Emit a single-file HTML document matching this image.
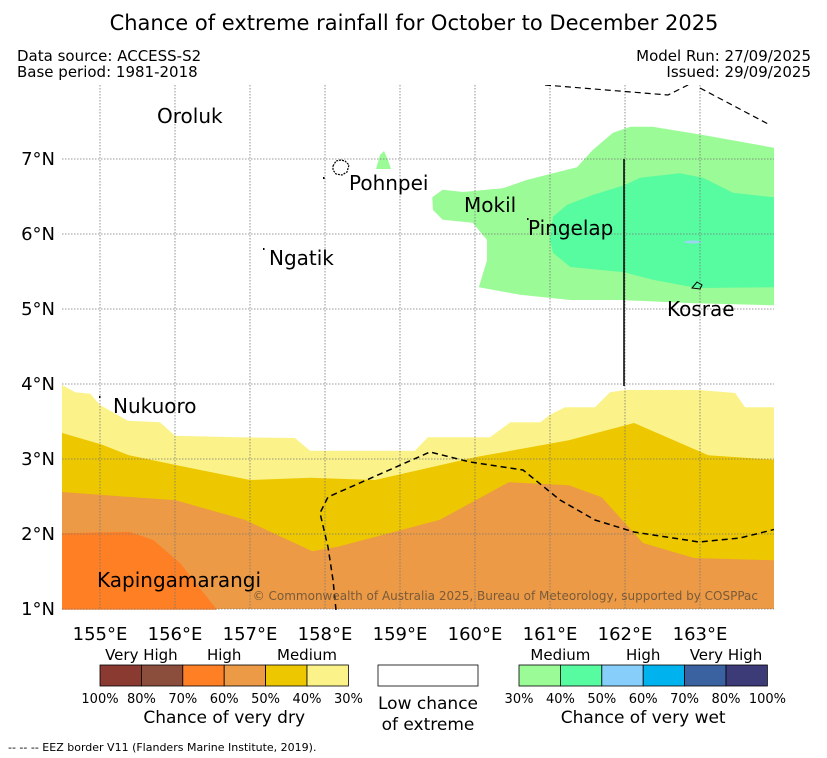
<!DOCTYPE html>
<html><head><meta charset="utf-8"><style>
body{margin:0;background:#fff;font-family:"DejaVu Sans","Liberation Sans",sans-serif;}
svg{display:block}
</style></head><body>
<svg id="chart" width="827" height="758" viewBox="0 0 827 758" xmlns="http://www.w3.org/2000/svg" font-family="DejaVu Sans, Liberation Sans, sans-serif">
<text x="414" y="30" text-anchor="middle" font-size="21">Chance of extreme rainfall for October to December 2025</text>
<text x="17" y="61" font-size="15">Data source: ACCESS-S2</text>
<text x="17" y="77" font-size="15">Base period: 1981-2018</text>
<text x="811" y="61" font-size="15" text-anchor="end">Model Run: 27/09/2025</text>
<text x="811" y="77" font-size="15" text-anchor="end">Issued: 29/09/2025</text>
<g id="map"></g>
<g id="legend"></g>
<text x="8" y="751" font-size="11">-- -- -- EEZ border V11 (Flanders Marine Institute, 2019).</text>
</svg>
<script>
const lonTicks=[155,156,157,158,159,160,161,162,163];
const latTicks=[1,2,3,4,5,6,7];
const dry30Lon=[154.49,154.67,154.87,155,155.37,155.8,156,156.84,157.6,157.8,159.2,159.37,160.2,160.47,160.87,161,161.2,161.6,161.8,162,163,163.47,163.6,164,164,154.49];
const dry30Lat=[3.99,3.89,3.87,3.72,3.51,3.49,3.31,3.29,3.28,3.11,3.11,3.29,3.29,3.49,3.49,3.59,3.69,3.69,3.89,3.92,3.92,3.88,3.69,3.69,1,1];
const dry40Lon=[154.49,155.03,155.39,156.01,157,157.8,158.67,160.03,161.25,162.12,163.11,164,164,154.49];
const dry40Lat=[3.35,3.19,3.05,2.92,2.72,2.75,2.72,3.03,3.25,3.48,3.05,2.99,1,1];
const dry50Lon=[154.49,156.01,156.93,157.83,158.17,159.53,160.45,161.25,161.69,162.24,162.92,164,164,154.49];
const dry50Lat=[2.56,2.45,2.19,1.77,1.83,2.19,2.69,2.65,2.49,1.88,1.68,1.65,1,1];
const dry60Lon=[154.49,155.39,155.71,156.07,156.56,154.49];
const dry60Lat=[2.01,2.03,1.92,1.61,0.99,0.99];
const wet30Lon=[159.43,159.44,159.57,159.97,160.16,160.16,160.05,160.6,161.27,161.93,162.83,163.99,163.99,163.04,162.37,162.07,161.84,161.57,161.36,160.96,160.69,160.37,159.84,159.57];
const wet30Lat=[6.49,6.32,6.19,6.15,5.92,5.65,5.29,5.19,5.12,5.12,5.08,5.05,7.15,7.32,7.43,7.43,7.35,7.12,6.89,6.79,6.72,6.61,6.56,6.59];
const wet40Lon=[161.0,161.04,161.23,161.57,161.99,162.2,162.73,163.04,163.44,163.99,163.99,162.96,162.37,161.99,161.27,161.04];
const wet40Lat=[5.92,6.23,6.39,6.52,6.65,6.75,6.81,6.75,6.55,6.49,5.29,5.28,5.39,5.49,5.56,5.75];
function X(lon){return 100+75*(lon-155);}
function Y(lat){return 609-75*(lat-1);}
const NS='http://www.w3.org/2000/svg';
const map=document.getElementById('map');
const leg=document.getElementById('legend');
function mk(tag,attrs,parent){const e=document.createElementNS(NS,tag);for(const k in attrs)e.setAttribute(k,attrs[k]);parent.appendChild(e);return e;}
const defs=mk('defs',{},map);
const cp=mk('clipPath',{id:'clip'},defs);
mk('rect',{x:62,y:85,width:712,height:525},cp);
const plot=mk('g',{'clip-path':'url(#clip)'},map);
function poly(lons,lats,fill,name){
  const pts=lons.map((l,i)=>X(l).toFixed(1)+','+Y(lats[i]).toFixed(1)).join(' ');
  const p=mk('polygon',{points:pts,fill:fill},plot);
  
  
}
poly(dry30Lon,dry30Lat,'#fbf38a','dry-30-40');
poly(dry40Lon,dry40Lat,'#edc800','dry-40-50');
poly(dry50Lon,dry50Lat,'#ec9a45','dry-50-60');
poly(dry60Lon,dry60Lat,'#ff7f24','dry-60-70');
poly(wet30Lon,wet30Lat,'#9bfb96','wet-30-40');
poly(wet40Lon,wet40Lat,'#57fba0','wet-40-50');
mk('ellipse',{cx:693,cy:242,rx:9,ry:1.5,fill:'#9ad6f0'},plot);
mk('path',{d:'M376,169 L380,155 L384,151 L388,160 L391,169 Z',fill:'#9bfb96'},plot);
// grid
lonTicks.forEach(l=>{const g=mk('line',{x1:X(l),x2:X(l),y1:85,y2:610,stroke:'#777','stroke-width':0.8,'stroke-dasharray':'1.5,1.5'},plot);

});
latTicks.forEach(l=>{const g=mk('line',{x1:62,x2:774,y1:Y(l),y2:Y(l),stroke:'#777','stroke-width':0.8,'stroke-dasharray':'1.5,1.5'},plot);

});
// EEZ borders
const eez1=mk('polyline',{points:'336,610 333,580 328,547 320,513 328,497 430,452 470,462 523,470 560,500 595,520 634,532 699,542 740,538 780,528',fill:'none',stroke:'#000','stroke-width':1.5,'stroke-dasharray':'6,4'},plot);


const eez2=mk('polyline',{points:'545,85 668,95 690,84',fill:'none',stroke:'#000','stroke-width':1.2,'stroke-dasharray':'6,4'},plot);


const eez3=mk('polyline',{points:'700,88 770,125',fill:'none',stroke:'#000','stroke-width':1.2,'stroke-dasharray':'6,4'},plot);


const vl=mk('line',{x1:624,x2:624,y1:159,y2:386,stroke:'#000','stroke-width':1.5},plot);


// islands
const pohn=mk('path',{d:'M333,166 L336,161 L341,160 L345,161 L349,165 L347,172 L342,175 L336,174 L333,170 Z',fill:'none',stroke:'#000','stroke-width':1.2,'stroke-dasharray':'2,1'},plot);


const kos=mk('path',{d:'M692,288 L697,282 L702,285 L700,289 Z',fill:'none',stroke:'#000','stroke-width':1},plot);


[[323,177],[99,396],[263,248],[527,218]].forEach(p=>{mk('rect',{x:p[0],y:p[1],width:1.5,height:2,fill:'#000'},plot);});
const labels=[['Oroluk',157,123],['Pohnpei',349,190],['Mokil',464,212],['Pingelap',528,235],['Ngatik',269,265],['Kosrae',667,316],['Nukuoro',113,413],['Kapingamarangi',97,587]];
labels.forEach(a=>{const t=mk('text',{x:a[1],y:a[2],'font-size':20},plot);t.textContent=a[0];

});
const cr=mk('text',{x:758,y:600,'font-size':12,fill:'#7a5a3a','text-anchor':'end'},plot);
cr.textContent='© Commonwealth of Australia 2025, Bureau of Meteorology, supported by COSPPac';


// tick labels
lonTicks.forEach(l=>{const t=mk('text',{x:X(l),y:640,'font-size':18,'text-anchor':'middle'},map);t.textContent=l+'°E';

});
latTicks.forEach(l=>{const t=mk('text',{x:55,y:Y(l)+6,'font-size':18,'text-anchor':'end'},map);t.textContent=l+'°N';

});
// legend
const dryColors=['#8b3a32','#8b4e3d','#ff7f24','#ec9a45','#edc800','#fbf38a'];
const wetColors=['#9bfb96','#57fba0','#87cefa','#00b2ee','#3a62a0','#3d3a78'];
const dryTicks=['100%','80%','70%','60%','50%','40%','30%'];
const wetTicks=['30%','40%','50%','60%','70%','80%','100%'];
function bar(x0,colors,ticks,cats,title,name){
  const w=41.4;
  colors.forEach((c,i)=>{const r=mk('rect',{x:x0+i*w,y:665,width:w,height:21,fill:c,stroke:'#000','stroke-width':0.8},leg);
  
  });
  ticks.forEach((t,i)=>{const e=mk('text',{x:x0+i*w,y:703,'font-size':13,'text-anchor':'middle'},leg);e.textContent=t;
  
  });
  cats.forEach(c=>{const e=mk('text',{x:x0+c[1]*w,y:660,'font-size':15,'text-anchor':'middle'},leg);e.textContent=c[0];
  
  });
  const tt=mk('text',{x:x0+3*w,y:723,'font-size':17,'text-anchor':'middle'},leg);tt.textContent=title;
  
  
}
bar(100,dryColors,dryTicks,[['Very High',1],['High',3],['Medium',5]],'Chance of very dry','dry-legend');
bar(519,wetColors,wetTicks,[['Medium',1],['High',3],['Very High',5]],'Chance of very wet','wet-legend');
const lr=mk('rect',{x:378,y:665,width:100,height:21,fill:'#fff',stroke:'#000','stroke-width':0.8},leg);


[['Low chance',709],['of extreme',730]].forEach(a=>{const t=mk('text',{x:428,y:a[1],'font-size':17,'text-anchor':'middle'},leg);t.textContent=a[0];

});
</script>
</body></html>
